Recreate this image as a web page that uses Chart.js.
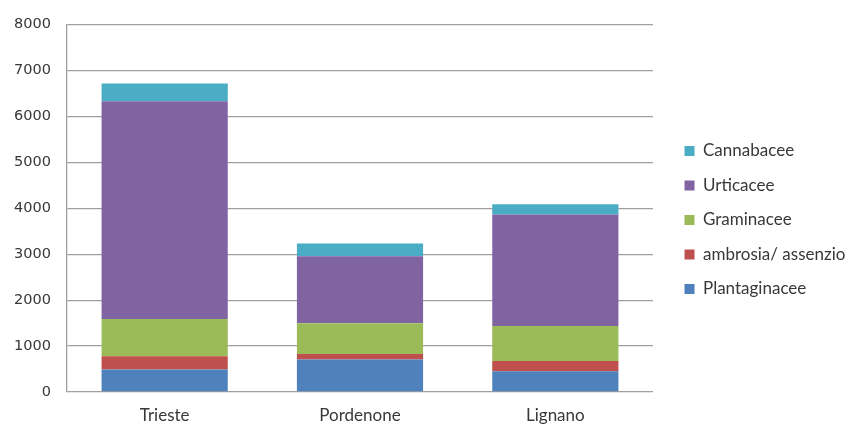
<!DOCTYPE html>
<html>
<head>
<meta charset="utf-8">
<script src="https://cdn.jsdelivr.net/npm/chart.js@4/dist/chart.umd.min.js"></script>
<style>
  body { margin: 0; background: #fff; }
</style>
</head>
<body>
<canvas id="pollenChart" width="853" height="425"></canvas>
<script>
var cities = ['Trieste', 'Pordenone', 'Lignano'];

var plantaginacee = [490, 710, 450];
var ambrosia = [290, 115, 225];
var graminacee = [810, 675, 760];
var urticacee = [4740, 1455, 2430];
var cannabacee = [390, 280, 225];

var yTicks = [0, 1000, 2000, 3000, 4000, 5000, 6000, 7000, 8000];

var gridColor = '#a0a0a0';
var textColor = '#383838';

// legend gets a fixed column on the right, items pushed a bit inward
var legendLayout = {
    id: 'legendLayout',
    beforeUpdate: function (chart) {
        var lg = chart.legend;
        if (lg && !lg._fixed) {
            var fit = lg.fit;
            lg.fit = function () {
                fit.call(this);
                this.width = 200;
            };
            lg._fixed = true;
        }
    },
    afterLayout: function (chart) {
        var lg = chart.legend;
        lg.left += 14;
        lg.right += 14;
        lg.top -= 3;
        lg.bottom -= 3;
    }
};

document.addEventListener('DOMContentLoaded', function () {
    var ctx = document.getElementById('pollenChart').getContext('2d');
    new Chart(ctx, {
        type: 'bar',
        data: {
            labels: cities,
            datasets: [
                { label: 'Plantaginacee', data: plantaginacee, backgroundColor: '#4f81bd' },
                { label: 'ambrosia/ assenzio', data: ambrosia, backgroundColor: '#c0504d' },
                { label: 'Graminacee', data: graminacee, backgroundColor: '#9bbb59' },
                { label: 'Urticacee', data: urticacee, backgroundColor: '#8064a2' },
                { label: 'Cannabacee', data: cannabacee, backgroundColor: '#4bacc6' }
            ]
        },
        options: {
            responsive: false,
            animation: false,
            layout: { padding: { top: 21, bottom: 0, left: 0, right: 0 } },
            datasets: {
                bar: { categoryPercentage: 1, barPercentage: 0.646, borderWidth: 0 }
            },
            scales: {
                x: {
                    stacked: true,
                    grid: { display: false },
                    border: { display: false },
                    ticks: {
                        color: textColor,
                        padding: 5,
                        font: { family: 'Lato', size: 17 }
                    },
                    afterFit: function (scale) { scale.height = 33; }
                },
                y: {
                    stacked: true,
                    min: 0,
                    max: 8000,
                    afterBuildTicks: function (scale) {
                        scale.ticks = yTicks.map(function (v) { return { value: v }; });
                    },
                    grid: { color: gridColor, lineWidth: 1.3, drawTicks: false },
                    border: { display: true, color: gridColor, width: 1.3 },
                    ticks: {
                        color: textColor,
                        padding: 16,
                        font: { family: 'DejaVu Sans', size: 14.5 },
                        callback: function (value) { return String(value); }
                    },
                    afterFit: function (scale) { scale.width = 67; }
                }
            },
            plugins: {
                legend: {
                    position: 'right',
                    reverse: true,
                    labels: {
                        boxWidth: 10,
                        boxHeight: 10,
                        padding: 17.5,
                        color: textColor,
                        font: { family: 'Lato', size: 17 }
                    }
                },
                tooltip: { enabled: false }
            }
        },
        plugins: [legendLayout]
    });
});
</script>
</body>
</html>
